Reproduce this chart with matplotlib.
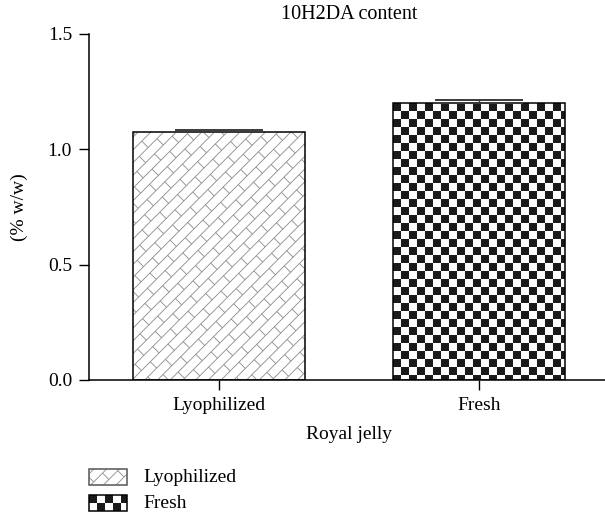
import numpy as np
import matplotlib
matplotlib.use("Agg")
import matplotlib.pyplot as plt
from matplotlib.collections import LineCollection, PolyCollection
from matplotlib.patches import Rectangle
from matplotlib.transforms import IdentityTransform

plt.rcParams['font.family'] = 'serif'
plt.rcParams['font.serif'] = ['Liberation Serif', 'DejaVu Serif']

# data
categories = ["Lyophilized", "Fresh"]
content = [1.074, 1.203]      # % w/w
errors = [0.009, 0.013]
yticks = [0.0, 0.5, 1.0, 1.5]

W, H = 605, 512
BRICK_W = 9.0    # px, gap between the long / lines
BRICK_L = 25.0   # px, brick length
CHECK = 8.0      # px, checker square


def brick_lines(x0, y0, x1, y1):
    """segments of a diagonal brick pattern covering a pixel box"""
    r2 = np.sqrt(2.)
    corners = np.array([[x0, y0], [x1, y0], [x0, y1], [x1, y1]])
    u = (corners[:, 0] + corners[:, 1]) / r2
    v = (corners[:, 1] - corners[:, 0]) / r2
    umin, umax, vmin, vmax = u.min(), u.max(), v.min(), v.max()
    to_xy = lambda uu, vv: ((uu - vv) / r2, (uu + vv) / r2)
    segs = []
    for k in range(int(np.floor(vmin / BRICK_W)) - 1, int(np.ceil(vmax / BRICK_W)) + 1):
        va, vb = k * BRICK_W, (k + 1) * BRICK_W
        segs.append([to_xy(umin, va), to_xy(umax, va)])
        off = (k % 2) * BRICK_L / 2
        for j in range(int(np.floor(umin / BRICK_L)) - 1, int(np.ceil(umax / BRICK_L)) + 1):
            uu = j * BRICK_L + off
            segs.append([to_xy(uu, va), to_xy(uu, vb)])
    return segs


def checker_squares(x0, y0, x1, y1):
    polys = []
    nx = int(np.ceil((x1 - x0) / CHECK))
    ny = int(np.ceil((y1 - y0) / CHECK))
    for i in range(nx):
        for j in range(ny):
            if (i + j) % 2 == 0:
                xa, yb = x0 + i * CHECK, y1 - j * CHECK
                polys.append([(xa, yb), (xa + CHECK, yb), (xa + CHECK, yb - CHECK), (xa, yb - CHECK)])
    return polys


def fill_pattern(container, clip, kind, bbox, zorder):
    x0, y0, x1, y1 = bbox
    if kind == "brick":
        coll = LineCollection(brick_lines(x0, y0, x1, y1), colors="#8a8a8a",
                              linewidths=0.6, transform=IdentityTransform())
    else:
        coll = PolyCollection(checker_squares(x0, y0, x1, y1), facecolors="#1a1a1a",
                              edgecolors="none", transform=IdentityTransform())
    coll.set_zorder(zorder)
    if container is fig:
        fig.add_artist(coll)
    else:
        container.add_collection(coll, autolim=False)
    # set the clip after adding, add_collection would replace it otherwise
    coll.set_clip_box(None)
    coll.set_clip_path(clip)


fig = plt.figure(figsize=(W / 100, H / 100), dpi=100)
ax = fig.add_axes([89 / W, 1 - 380 / H, 520 / W, 346 / H])

x = np.arange(len(categories))
bars = ax.bar(x, content, width=0.664, facecolor="none", edgecolor="black",
              linewidth=1.1, zorder=3)
ax.errorbar(x, content, yerr=[[0, 0], errors], fmt="none", ecolor="#3a3a3a",
            elinewidth=1.0, capsize=32, capthick=1.4, zorder=4)

ax.set_xlim(-0.5, 1.5)
ax.set_ylim(0, 1.5)
ax.set_yticks(yticks)
ax.set_yticklabels(["%.1f" % t for t in yticks])
ax.set_xticks(x)
ax.set_xticklabels(categories)
for s in ["top", "right"]:
    ax.spines[s].set_visible(False)
for s in ["left", "bottom"]:
    ax.spines[s].set_linewidth(1.1)
ax.tick_params(direction="out", length=7.2, width=1.0, labelsize=14, pad=5)
ax.set_xlabel("Royal jelly", fontsize=14, labelpad=9)
ax.set_ylabel("(% w/w)", fontsize=14)
ax.yaxis.set_label_coords(-0.118, 0.5)
ax.set_title("10H2DA content", fontsize=14.5, pad=11)

fig.canvas.draw()
kinds = ["brick", "checker"]
for b, k in zip(bars, kinds):
    e = b.get_window_extent()
    fill_pattern(ax, b, k, (e.x0, e.y0, e.x1, e.y1), 2)

# legend below the axes
leg_tops = [469, 495]
for top, k, name in zip(leg_tops, kinds, categories):
    y0 = H - top - 16
    rect = Rectangle((89, y0), 38, 16, transform=IdentityTransform(), facecolor="none",
                     edgecolor="#555555" if k == "brick" else "black", linewidth=1.1, zorder=3)
    fig.add_artist(rect)
    fill_pattern(fig, rect, k, (89, y0, 127, y0 + 16), 2)
    fig.text(143 / W, (y0 + 8) / H, name, fontsize=14, va="center", ha="left")

fig.savefig("out.png", dpi=100)
